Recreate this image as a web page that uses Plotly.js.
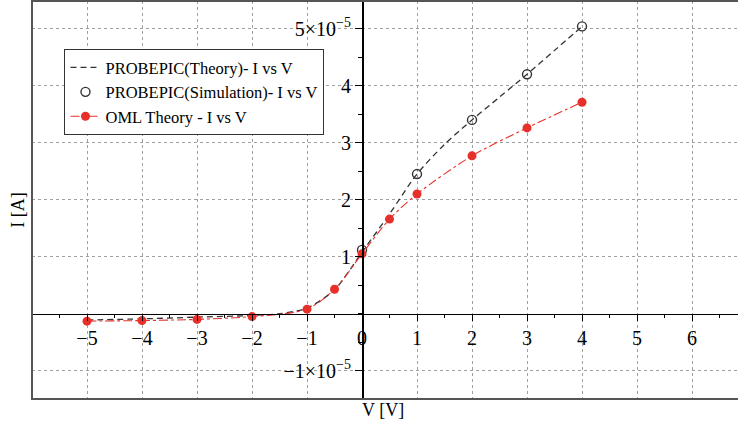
<!DOCTYPE html>
<html>
<head>
<meta charset="utf-8">
<script src="https://cdn.plot.ly/plotly-3.0.1.min.js"></script>
<style>html,body{margin:0;padding:0;background:#fff;}#chart{width:738px;height:430px;}</style>
</head>
<body>
<div id="chart"></div>
<script>
// ---- Data (V in volts, I in amperes) ----
const V_theory = [-5, -4, -3, -2, -1.5, -1, -0.5, 0, 0.5, 1, 1.5, 2, 2.5, 3, 3.5, 4];
const I_theory = [-0.11e-5, -0.09e-5, -0.06e-5, -0.03e-5, 0.0, 0.1e-5, 0.42e-5, 1.08e-5, 1.75e-5, 2.45e-5, 2.97e-5, 3.40e-5, 3.80e-5, 4.20e-5, 4.62e-5, 5.04e-5];

const V_sim = [0, 1, 2, 3, 4];
const I_sim = [1.12e-5, 2.45e-5, 3.40e-5, 4.20e-5, 5.04e-5];

const V_oml = [-5, -4, -3, -2, -1, -0.5, 0, 0.5, 1, 2, 3, 4];
const I_oml = [-0.13e-5, -0.12e-5, -0.10e-5, -0.05e-5, 0.08e-5, 0.43e-5, 1.05e-5, 1.66e-5, 2.10e-5, 2.77e-5, 3.26e-5, 3.71e-5];

const seriesNames = ["PROBEPIC(Theory)- I vs V", "PROBEPIC(Simulation)- I vs V", "OML Theory - I vs V"];

const xTickVals = [-5, -4, -3, -2, -1, 0, 1, 2, 3, 4, 5, 6];
const xTickText = ["−5", "−4", "−3", "−2", "−1", "0", "1", "2", "3", "4", "5", "6"];
const yTickVals = [-1e-5, 1e-5, 2e-5, 3e-5, 4e-5, 5e-5];
const yTickText = ["−1×10<sup>−5</sup>", "1", "2", "3", "4", "5×10<sup>−5</sup>"];

const xTitle = "V [V]";
const yTitle = "I [A]";

// ---- Layout constants ----
const xRange = [-6, 6.836];
const yRange = [-1.496e-5, 5.486e-5];
const FONT = "Liberation Serif, Times New Roman, serif";
const RED = "#e8302a";

const traces = [
  {
    x: V_theory, y: I_theory, name: seriesNames[0], type: "scatter", mode: "lines",
    line: {color: "#333333", width: 1.3, dash: "6px,4px", shape: "spline", smoothing: 0.8}
  },
  {
    x: V_sim, y: I_sim, name: seriesNames[1], type: "scatter", mode: "markers",
    marker: {symbol: "circle-open", size: 9, color: "#333333", line: {width: 1.4, color: "#333333"}}
  },
  {
    x: V_oml, y: I_oml, name: seriesNames[2], type: "scatter", mode: "lines+markers",
    line: {color: RED, width: 1.1, dash: "dashdot", shape: "spline", smoothing: 0.8},
    marker: {symbol: "circle", size: 9, color: RED}
  }
];

const layout = {
  width: 738, height: 430,
  margin: {l: 32, r: 0, t: 1, b: 31},
  paper_bgcolor: "#ffffff", plot_bgcolor: "#ffffff",
  font: {family: FONT, color: "#000", size: 17},
  showlegend: true,
  legend: {
    x: 0.046, y: 0.879, xanchor: "left", yanchor: "top",
    bgcolor: "#ffffff", bordercolor: "#333333", borderwidth: 1,
    font: {family: FONT, size: 16.5, color: "#000"},
    tracegroupgap: 0
  },
  xaxis: {
    range: xRange, anchor: "free", position: (0 - yRange[0]) / (yRange[1] - yRange[0]),
    tickmode: "array", tickvals: xTickVals, ticktext: xTickText,
    ticks: "outside", ticklen: 6, tickwidth: 1, tickcolor: "#000",
    minor: {dtick: 0.5, tick0: 0, ticks: "outside", ticklen: 3, tickcolor: "#000", showgrid: false},
    showline: true, linecolor: "#000", linewidth: 1.5,
    showgrid: true, gridcolor: "#a0a0a0", griddash: "dot", gridwidth: 1,
    zeroline: false,
    tickfont: {family: FONT, size: 20, color: "#000"},
    fixedrange: true
  },
  yaxis: {
    range: yRange, anchor: "free", position: (0 - xRange[0]) / (xRange[1] - xRange[0]),
    tickmode: "array", tickvals: yTickVals, ticktext: yTickText,
    ticks: "outside", ticklen: 7, tickwidth: 1, tickcolor: "#000",
    minor: {dtick: 0.5e-5, tick0: 0, ticks: "outside", ticklen: 4, tickcolor: "#000", showgrid: false},
    showline: true, linecolor: "#000", linewidth: 1.5,
    showgrid: true, gridcolor: "#a0a0a0", griddash: "dot", gridwidth: 1,
    zeroline: false,
    tickfont: {family: FONT, size: 20, color: "#000"},
    fixedrange: true
  },
  shapes: [
    {type: "rect", xref: "paper", yref: "paper", x0: 0, x1: 1.05, y0: 0, y1: 1,
     line: {color: "#555555", width: 2}, fillcolor: "rgba(0,0,0,0)", layer: "above"}
  ],
  annotations: [
    {text: xTitle, xref: "paper", yref: "paper", x: 0.497, y: -0.028, xanchor: "center", yanchor: "middle",
     showarrow: false, font: {family: FONT, size: 18, color: "#000"}},
    {text: yTitle, xref: "paper", yref: "paper", x: -0.02, y: 0.475, xanchor: "center", yanchor: "middle",
     textangle: -90, showarrow: false, font: {family: FONT, size: 18, color: "#000"}}
  ]
};

Plotly.newPlot("chart", traces, layout, {displayModeBar: false, staticPlot: true});
</script>
</body>
</html>
